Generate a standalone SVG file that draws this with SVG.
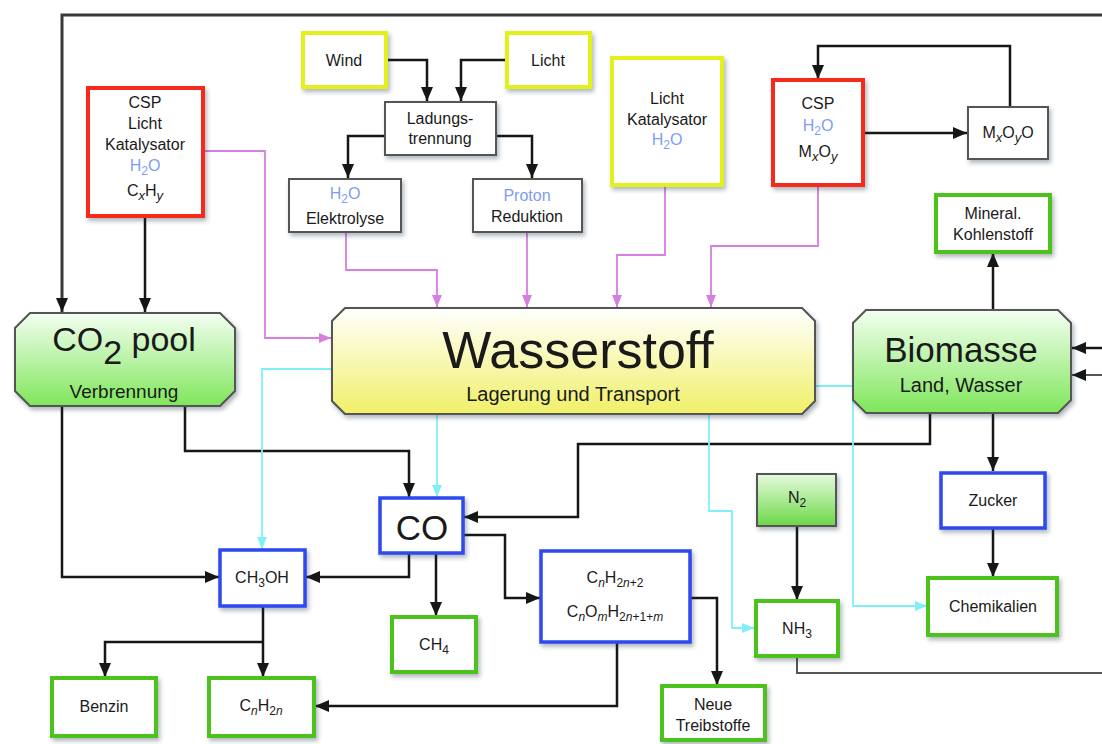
<svg xmlns="http://www.w3.org/2000/svg" width="1102" height="744" viewBox="0 0 1102 744">
<defs>
<style>
text{font-family:"Liberation Sans",Arial,sans-serif;fill:#1a1a1a;text-anchor:middle}
.t{font-size:16px}
.b{fill:#7f9cf5}
.box{fill:#fff}
.red{stroke:#f52a1c;stroke-width:4}
.yel{stroke:#e4f01e;stroke-width:4}
.grn{stroke:#4ec21c;stroke-width:4}
.blu{stroke:#2d48ee;stroke-width:3.5}
.gry{stroke:#555;stroke-width:2}
.sh{filter:url(#sh)}
.k{fill:none;stroke:#161616;stroke-width:2.5}
.kg{fill:none;stroke:#555;stroke-width:2}
.m{fill:none;stroke:#d67ee2;stroke-width:1.8}
.c{fill:none;stroke:#80f0f8;stroke-width:1.8}
</style>
<filter id="sh" x="-10%" y="-10%" width="130%" height="140%">
<feDropShadow dx="2" dy="3" stdDeviation="2" flood-color="#203040" flood-opacity="0.35"/>
</filter>
<linearGradient id="gG" x1="0" y1="0" x2="0" y2="1">
<stop offset="0" stop-color="#f4fff2"/><stop offset="1" stop-color="#7fe65a"/>
</linearGradient>
<linearGradient id="gY" x1="0" y1="0" x2="0" y2="1">
<stop offset="0" stop-color="#ffffff"/><stop offset="1" stop-color="#f0f068"/>
</linearGradient>
<linearGradient id="gN" x1="0" y1="0" x2="0" y2="1">
<stop offset="0" stop-color="#e6fadf"/><stop offset="1" stop-color="#6cd846"/>
</linearGradient>
<marker id="ak" viewBox="0 0 14 12" refX="14" refY="6" markerWidth="14" markerHeight="12" markerUnits="userSpaceOnUse" orient="auto">
<path d="M0,0 L14,6 L0,12 z" fill="#161616"/>
</marker>
<marker id="am" viewBox="0 0 12 10" refX="12" refY="5" markerWidth="12" markerHeight="10" markerUnits="userSpaceOnUse" orient="auto">
<path d="M0,0 L12,5 L0,10 z" fill="#d67ee2"/>
</marker>
<marker id="ac" viewBox="0 0 12 10" refX="12" refY="5" markerWidth="12" markerHeight="10" markerUnits="userSpaceOnUse" orient="auto">
<path d="M0,0 L12,5 L0,10 z" fill="#80f0f8"/>
</marker>
</defs>
<rect width="1102" height="744" fill="#fff"/>

<g id="connectors">
<path d="M1102,15 H62 V312" fill="none" stroke="#3a3a3a" stroke-width="3" marker-end="url(#ak)"/>
<path class="k" d="M145,216 V312" marker-end="url(#ak)"/>
<path class="k" d="M386,60 H427 V101" marker-end="url(#ak)"/>
<path class="k" d="M507,60 H461 V101" marker-end="url(#ak)"/>
<path class="k" d="M385,136 H348 V178" marker-end="url(#ak)"/>
<path class="k" d="M496,136 H532 V178" marker-end="url(#ak)"/>
<path class="k" d="M863,133 H967" marker-end="url(#ak)"/>
<path class="k" d="M1010,107 V46 H818 V79" marker-end="url(#ak)"/>
<path class="k" d="M993,310 V253" marker-end="url(#ak)"/>
<path class="k" d="M993,413 V471" marker-end="url(#ak)"/>
<path class="k" d="M993,527 V577" marker-end="url(#ak)"/>
<path class="k" d="M930,413 V444 H578 V517 H464" marker-end="url(#ak)"/>
<path class="k" d="M62,406 V577 H219" marker-end="url(#ak)"/>
<path class="k" d="M185,406 V451 H409 V497" marker-end="url(#ak)"/>
<path class="k" d="M409,553 V577 H306" marker-end="url(#ak)"/>
<path class="k" d="M436,553 V616" marker-end="url(#ak)"/>
<path class="k" d="M463,535 H505 V598 H540" marker-end="url(#ak)"/>
<path class="k" d="M690,598 H717 V685" marker-end="url(#ak)"/>
<path class="k" d="M617,642 V706 H315" marker-end="url(#ak)"/>
<path class="k" d="M263,606 V677" marker-end="url(#ak)"/>
<path class="k" d="M263,642 H105 V677" marker-end="url(#ak)"/>
<path class="k" d="M797,527 V600" marker-end="url(#ak)"/>
<path class="kg" d="M797,656 V673 H1102"/>
<path class="k" d="M1102,348 H1072" marker-end="url(#ak)"/>
<path class="kg" d="M1102,375 H1072" marker-end="url(#ak)"/>

<path class="m" d="M203,151 H265 V338 H331" marker-end="url(#am)"/>
<path class="m" d="M346,232 V270 H437 V307" marker-end="url(#am)"/>
<path class="m" d="M527,232 V307" marker-end="url(#am)"/>
<path class="m" d="M665,185 V255 H617 V307" marker-end="url(#am)"/>
<path class="m" d="M818,185 V246 H711 V307" marker-end="url(#am)"/>

<path class="c" d="M332,369 H262 V549" marker-end="url(#ac)"/>
<path class="c" d="M437,414 V497" marker-end="url(#ac)"/>
<path class="c" d="M709,414 V511 H732 V628 H754" marker-end="url(#ac)"/>
<path class="c" d="M815,386 H853 V606 H927" marker-end="url(#ac)"/>
</g>

<g id="cspL"><rect class="box red sh" x="88" y="88" width="115" height="128"/>
<text class="t" x="145" y="108">CSP</text>
<text class="t" x="145" y="129">Licht</text>
<text class="t" x="145" y="150">Katalysator</text>
<text class="t b" x="145" y="171">H<tspan dy="4" font-size="12">2</tspan><tspan dy="-4">O</tspan></text>
<text class="t" x="145" y="196">C<tspan dy="4" font-size="13" font-style="italic">x</tspan><tspan dy="-4">H</tspan><tspan dy="4" font-size="13" font-style="italic">y</tspan></text>
</g>
<g id="wind"><rect class="box yel sh" x="303" y="33" width="83" height="54"/><text class="t" x="344" y="66">Wind</text></g>
<g id="licht"><rect class="box yel sh" x="507" y="33" width="83" height="54"/><text class="t" x="548" y="66">Licht</text></g>
<g id="ladung"><rect class="box gry sh" x="385" y="102" width="111" height="53"/>
<text class="t" x="440" y="124">Ladungs-</text><text class="t" x="440" y="144">trennung</text></g>
<g id="elektrolyse"><rect class="box gry sh" x="289" y="179" width="112" height="53"/>
<text class="t b" x="345" y="199">H<tspan dy="4" font-size="12">2</tspan><tspan dy="-4">O</tspan></text>
<text class="t" x="345" y="224">Elektrolyse</text></g>
<g id="proton"><rect class="box gry sh" x="473" y="179" width="109" height="53"/>
<text class="t b" x="527" y="201">Proton</text><text class="t" x="527" y="222">Reduktion</text></g>
<g id="lichtkat"><rect class="box yel sh" x="612" y="58" width="110" height="127"/>
<text class="t" x="667" y="104">Licht</text><text class="t" x="667" y="125">Katalysator</text>
<text class="t b" x="667" y="145">H<tspan dy="4" font-size="12">2</tspan><tspan dy="-4">O</tspan></text></g>
<g id="cspR"><rect class="box red sh" x="773" y="80" width="90" height="105"/>
<text class="t" x="818" y="109">CSP</text>
<text class="t b" x="818" y="131">H<tspan dy="4" font-size="12">2</tspan><tspan dy="-4">O</tspan></text>
<text class="t" x="818" y="157">M<tspan dy="4" font-size="13" font-style="italic">x</tspan><tspan dy="-4">O</tspan><tspan dy="4" font-size="13" font-style="italic">y</tspan></text></g>
<g id="mxoyo"><rect class="box gry sh" x="968" y="107" width="80" height="52"/>
<text class="t" x="1008" y="138">M<tspan dy="4" font-size="13" font-style="italic">x</tspan><tspan dy="-4">O</tspan><tspan dy="4" font-size="13" font-style="italic">y</tspan><tspan dy="-4">O</tspan></text></g>
<g id="mineral"><rect class="box grn sh" x="936" y="195" width="114" height="57"/>
<text class="t" x="993" y="219">Mineral.</text><text class="t" x="993" y="240">Kohlenstoff</text></g>

<g id="co2pool"><path class="sh" d="M30,313 H220 L235,328 V391 L220,406 H30 L15,391 V328 Z" fill="url(#gG)" stroke="#555" stroke-width="2"/>
<text x="124" y="351" font-size="34">CO<tspan dy="13">2</tspan><tspan dy="-13"> pool</tspan></text>
<text x="124" y="398" font-size="19">Verbrennung</text></g>
<g id="wasserstoff"><path class="sh" d="M345,308 H802 L815,321 V401 L802,414 H345 L332,401 V321 Z" fill="url(#gY)" stroke="#555" stroke-width="2"/>
<text x="578" y="368" font-size="52">Wasserstoff</text>
<text x="573" y="401" font-size="20">Lagerung und Transport</text></g>
<g id="biomasse"><path class="sh" d="M866,310 H1058 L1071,323 V400 L1058,413 H866 L853,400 V323 Z" fill="url(#gG)" stroke="#555" stroke-width="2"/>
<text x="961" y="362" font-size="35">Biomasse</text>
<text x="961" y="392" font-size="20">Land, Wasser</text></g>

<g id="co"><rect class="box blu sh" x="380" y="498" width="83" height="55"/><text x="422" y="540" font-size="35">CO</text></g>
<g id="ch3oh"><rect class="box blu sh" x="220" y="550" width="85" height="56"/>
<text class="t" x="262" y="583">CH<tspan dy="4" font-size="12">3</tspan><tspan dy="-4">OH</tspan></text></g>
<g id="ch4"><rect class="box grn sh" x="392" y="617" width="84" height="55"/>
<text class="t" x="434" y="650">CH<tspan dy="4" font-size="12">4</tspan></text></g>
<g id="cn"><rect class="box blu sh" x="541" y="551" width="149" height="91"/>
<text class="t" x="615" y="583">C<tspan dy="4" font-size="12" font-style="italic">n</tspan><tspan dy="-4">H</tspan><tspan dy="4" font-size="12">2<tspan font-style="italic">n</tspan>+2</tspan></text>
<text class="t" x="615" y="617">C<tspan dy="4" font-size="12" font-style="italic">n</tspan><tspan dy="-4">O</tspan><tspan dy="4" font-size="12" font-style="italic">m</tspan><tspan dy="-4">H</tspan><tspan dy="4" font-size="12">2<tspan font-style="italic">n</tspan>+1+<tspan font-style="italic">m</tspan></tspan></text></g>
<g id="neue"><rect class="box grn sh" x="662" y="686" width="103" height="54"/>
<text class="t" x="713" y="710">Neue</text><text class="t" x="713" y="731">Treibstoffe</text></g>
<g id="benzin"><rect class="box grn sh" x="52" y="678" width="104" height="58"/><text class="t" x="104" y="712">Benzin</text></g>
<g id="cnh2n"><rect class="box grn sh" x="209" y="678" width="105" height="58"/>
<text class="t" x="261" y="711">C<tspan dy="4" font-size="12" font-style="italic">n</tspan><tspan dy="-4">H</tspan><tspan dy="4" font-size="12">2<tspan font-style="italic">n</tspan></tspan></text></g>
<g id="n2"><rect class="sh" x="757" y="474" width="79" height="52" fill="url(#gN)" stroke="#555" stroke-width="2"/>
<text class="t" x="797" y="503">N<tspan dy="4" font-size="12">2</tspan></text></g>
<g id="nh3"><rect class="box grn sh" x="756" y="601" width="82" height="55"/>
<text class="t" x="797" y="634">NH<tspan dy="4" font-size="12">3</tspan></text></g>
<g id="zucker"><rect class="box blu sh" x="941" y="473" width="104" height="55"/><text class="t" x="993" y="506">Zucker</text></g>
<g id="chemikalien"><rect class="box grn sh" x="928" y="578" width="129" height="57"/><text class="t" x="993" y="612">Chemikalien</text></g>
</svg>
